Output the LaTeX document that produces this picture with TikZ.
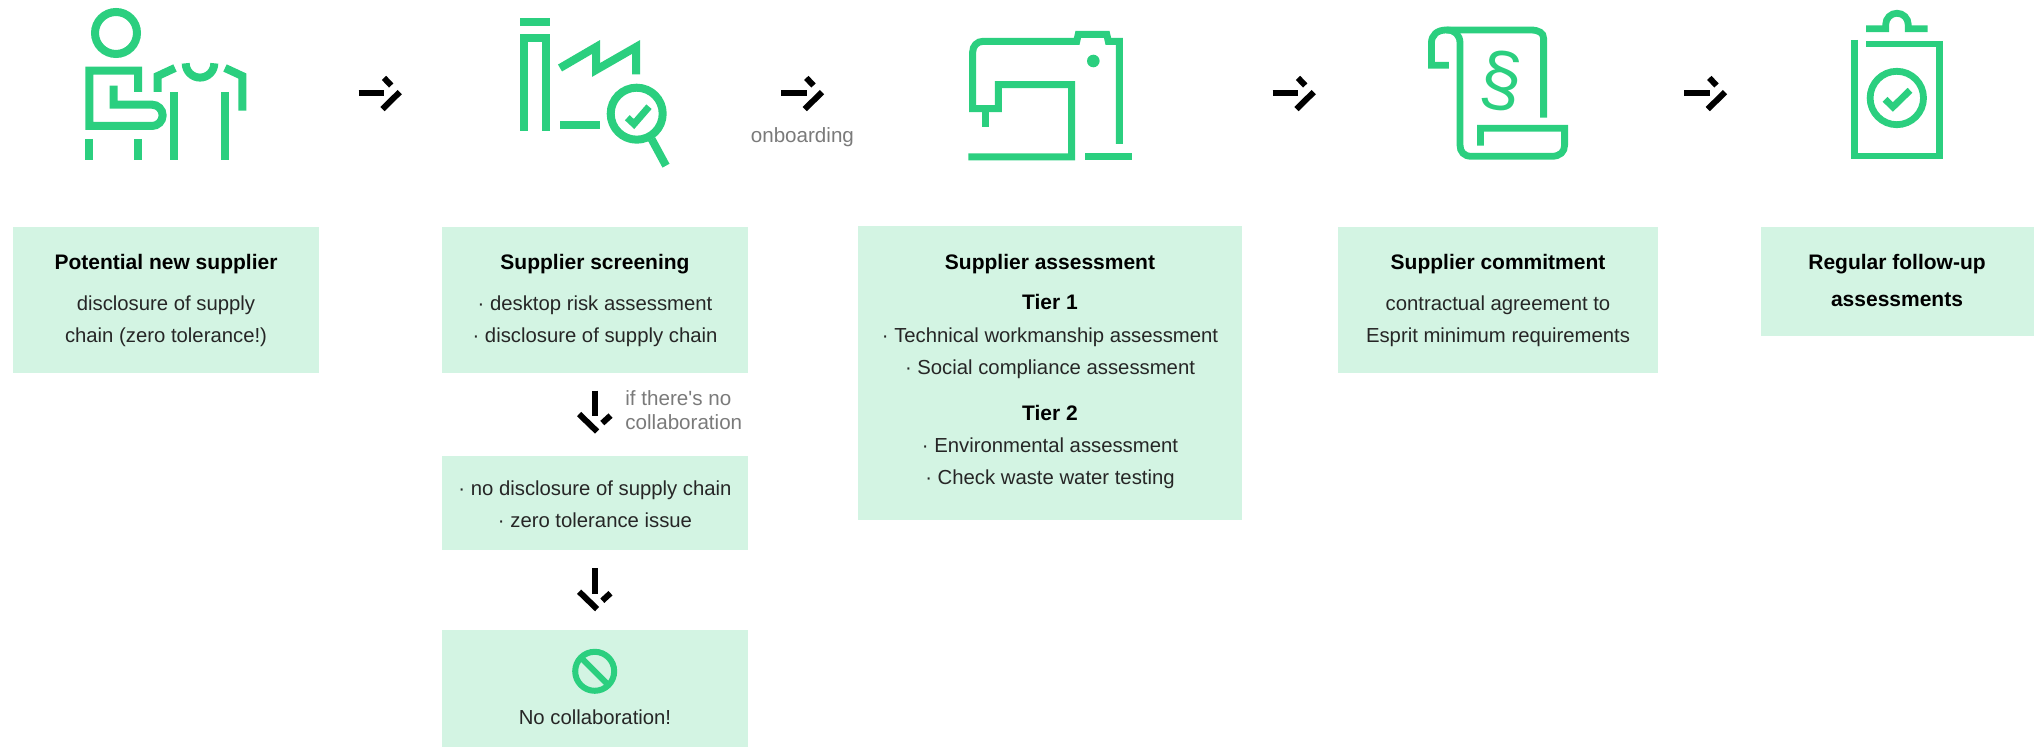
\documentclass[tikz,border=0pt]{standalone}
\usepackage{fontspec}
\setmainfont{Liberation Sans}
\usepackage{xcolor}
\usetikzlibrary{positioning}

\definecolor{icongreen}{HTML}{2BCF7F}
\definecolor{boxgreen}{HTML}{D3F4E3}
\definecolor{notegray}{HTML}{7A7A7A}

\tikzset{
  rightarrow/.pic={
    \draw[line width=3pt] (0,0) -- (25.6,0);
    \draw[line width=3pt] (25.3,-15.4) -- (32.5,-7.8);
    \draw[line width=3pt] (41,-1.2) -- (23.8,15.8);
  },
  downarrow/.pic={
    \draw[line width=3pt] (0,0) -- (0,25.4);
    \draw[line width=3pt] (-15.6,23.4) -- (2.4,40.8);
    \draw[line width=3pt] (7.6,32.4) -- (15.8,24.9);
  }
}

\begin{document}
\begin{tikzpicture}[x=0.5pt, y=-0.5pt, font=\fontsize{10.15pt}{16pt}\selectfont]

  % Define styles for boxes and icons
  \tikzstyle{stepbox} = [rectangle, fill=boxgreen, inner sep=0pt, anchor=north west]
  \tikzstyle{boxtext} = [anchor=base, text=black!85, inner sep=0pt]
  \tikzstyle{boxtitle} = [boxtext, text=black, font=\fontsize{10.5pt}{16pt}\selectfont\bfseries]
  \tikzstyle{note} = [anchor=base west, text=notegray, inner sep=0pt, font=\fontsize{10.3pt}{16pt}\selectfont]
  \tikzstyle{icon} = [draw=icongreen, line width=4pt, miter limit=10]

  \useasboundingbox (0,0) rectangle (2034,747);

  % Boxes
  \node[stepbox, minimum width=153pt, minimum height=73pt] (newsupplier) at (13,227) {};
  \node[stepbox, minimum width=153pt, minimum height=73pt] (screening) at (442,227) {};
  \node[stepbox, minimum width=153pt, minimum height=47pt] (nodisclosure) at (442,456) {};
  \node[stepbox, minimum width=153pt, minimum height=58.5pt] (nocollab) at (442,630) {};
  \node[stepbox, minimum width=192pt, minimum height=147pt] (assessment) at (858,226) {};
  \node[stepbox, minimum width=160pt, minimum height=73pt] (commitment) at (1338,227) {};
  \node[stepbox, minimum width=136.5pt, minimum height=54.5pt] (followup) at (1761,227) {};

  % Box texts
  \node[boxtitle] (newsuppliertitle) at (166,270) {Potential new supplier};
  \node[boxtext] (newsupplierone) at (166,311) {disclosure of supply};
  \node[boxtext] (newsuppliertwo) at (166,343) {chain (zero tolerance!)};

  \node[boxtitle] (screeningtitle) at (595,270) {Supplier screening};
  \node[boxtext] (screeningone) at (595,311) {· desktop risk assessment};
  \node[boxtext] (screeningtwo) at (595,343) {· disclosure of supply chain};

  \node[boxtext] (nodisclosureone) at (595,495.5) {· no disclosure of supply chain};
  \node[boxtext] (nodisclosuretwo) at (595,527.5) {· zero tolerance issue};
  \node[boxtext] (nocollabtext) at (595,725) {No collaboration!};

  \node[boxtitle] (assessmenttitle) at (1050,270) {Supplier assessment};
  \node[boxtitle] (tierone) at (1050,309.5) {Tier 1};
  \node[boxtext] (tieronea) at (1050,342.5) {· Technical workmanship assessment};
  \node[boxtext] (tieroneb) at (1050,374.5) {· Social compliance assessment};
  \node[boxtitle] (tiertwo) at (1050,420.5) {Tier 2};
  \node[boxtext] (tiertwoa) at (1050,452.5) {· Environmental assessment};
  \node[boxtext] (tiertwob) at (1050,484.5) {· Check waste water testing};

  \node[boxtitle] (commitmenttitle) at (1498,270) {Supplier commitment};
  \node[boxtext] (commitmentone) at (1498,311) {contractual agreement to};
  \node[boxtext] (commitmenttwo) at (1498,343) {Esprit minimum requirements};

  \node[boxtitle] (followuptitle) at (1897,270) {Regular follow-up};
  \node[boxtitle] (followuptwo) at (1897,306.5) {assessments};

  % Notes
  \node[note, anchor=base] (onboarding) at (802.4,142.5) {onboarding};
  \node[note] (notewhat) at (625,405.5) {if there\textquotesingle s no};
  \node[note] (notecollab) at (625,429.5) {collaboration};

  % Arrows
  \pic at (358.7,93.3) {rightarrow};
  \pic at (781,93.3) {rightarrow};
  \pic at (1272.7,93.3) {rightarrow};
  \pic at (1684,93.3) {rightarrow};
  \pic at (594.7,390.7) {downarrow};
  \pic at (594.7,568.3) {downarrow};

  % Person and shirt
  \draw[icon] (116,33) circle (10.5pt);
  \draw[icon] (138,92) -- (138,70.7) -- (89.3,70.7) -- (89.3,126) -- (152,126)
    arc (270:450:5.33pt) -- (113.7,104.7) -- (113.7,85.7);
  \draw[icon] (89.3,139) -- (89.3,160);
  \draw[icon] (138,139) -- (138,160);
  \draw[icon] (174.3,92) -- (174.3,160);
  \draw[icon] (225.3,92) -- (225.3,160);
  \draw[icon] (157.7,92) -- (157.7,76) -- (175,68);
  \draw[icon] (242.3,110.7) -- (242.3,76) -- (225,68);
  \draw[icon] (185.7,63.3) arc (180:360:7.15pt);

  % Factory and magnifier
  \draw[icon] (520,21.7) -- (550,21.7);
  \draw[icon] (524,130.7) -- (524,38) -- (546,38) -- (546,130.7);
  \draw[icon] (560,68) -- (596,47) -- (596,70) -- (636,47) -- (636,74.3);
  \draw[icon] (560,125.3) -- (600,125.3);
  \draw[icon] (636.7,113.7) circle (13pt);
  \draw[icon] (651.7,139.3) -- (666,165.7);
  \draw[icon, line width=3.5pt] (627.3,117.7) -- (634,124) -- (649,106.7);

  % Sewing machine
  \tikzstyle{machine} = [icon, line width=3.5pt]
  \draw[machine] (1119.3,144) -- (1119.3,41.3) -- (1108.3,41.3) -- (1106.7,34.3) -- (1078.3,34.3) -- (1076.7,41.3)
    -- (983.3,41.3) .. controls (977,41.3) and (972.7,46) .. (972.7,52) -- (972.7,108.7) -- (998.3,108.7)
    -- (998.3,84.7) -- (1071.7,84.7) -- (1071.7,157) -- (968.3,157);
  \draw[machine] (985.3,108.7) -- (985.3,126.7);
  \draw[machine] (1085,157) -- (1132.3,157);
  \fill[icongreen] (1093.3,61) circle (3.15pt);

  % Scroll
  \tikzstyle{scroll} = [icon, line width=3.4pt]
  \draw[scroll] (1448.9,65.3) -- (1431.4,65.3) -- (1431.4,43.3) .. controls (1431.4,35) and (1437,30) .. (1446.4,30)
    -- (1530.4,30) .. controls (1539,30) and (1543.6,33) .. (1543.6,38.3) -- (1543.6,117.7);
  \draw[scroll] (1446.4,30) .. controls (1455,30) and (1460,35) .. (1460,43.3) -- (1460,145)
    .. controls (1460,152) and (1464,156.3) .. (1471.4,156.3) -- (1551.8,156.3)
    .. controls (1560,156.3) and (1564.6,152) .. (1564.6,145) -- (1564.6,128.3) -- (1480.4,128.3) -- (1480.4,145.7);
  \node[text=icongreen, inner sep=0pt, rotate=-8, font=\fontsize{37pt}{37pt}\selectfont] (paragraph) at (1501,81) {§};

  % Clipboard
  \draw[scroll] (1854.6,40) -- (1854.6,156) -- (1939.3,156) -- (1939.3,44) -- (1866,44);
  \draw[scroll] (1866,28.7) -- (1885.7,28.7) -- (1885.7,24.5) arc (180:0:5.63pt) -- (1908.2,28.7) -- (1927.5,28.7);
  \draw[scroll] (1896.8,98) circle (13.35pt);
  \draw[scroll] (1885,99.3) -- (1892.9,107) -- (1910,90.3);

  % No collaboration sign
  \draw[icon, line width=3pt] (594.7,671.3) circle (9.75pt);
  \draw[icon, line width=3pt] (580.9,657.5) -- (608.5,685.1);

\end{tikzpicture}
\end{document}
